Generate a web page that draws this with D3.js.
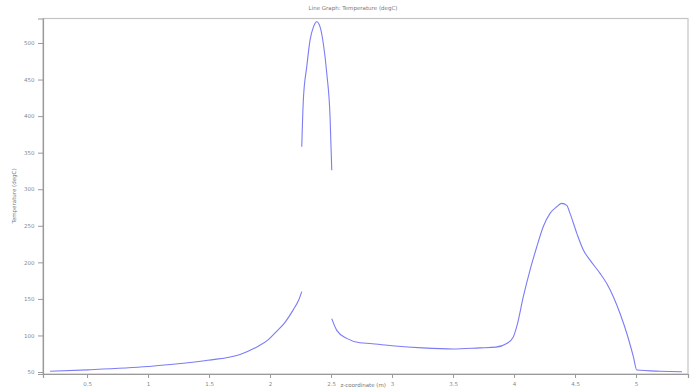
<!DOCTYPE html>
<html><head><meta charset="utf-8">
<script src="https://cdn.jsdelivr.net/npm/d3@7"></script>
<style>body{margin:0;background:#fff;} text{font-family:"DejaVu Sans",sans-serif;}</style>
</head><body><svg id="c" width="697" height="390"></svg>
<script>
const title = "Line Graph: Temperature (degC)";
const xLabel = "z-coordinate (m)";
const yLabel = "Temperature (degC)";
const xTicks = [0.5, 1, 1.5, 2, 2.5, 3, 3.5, 4, 4.5, 5];
const yTicks = [50, 100, 150, 200, 250, 300, 350, 400, 450, 500];
// null marks a break in the plotted line
const zValues = [0.197, 0.508, 1.0, 1.49, 1.754, 1.9, 1.984, 2.05, 2.123, 2.19, 2.235, 2.26,
  null,
  2.26, 2.273, 2.301, 2.328, 2.356, 2.383, 2.410, 2.437, 2.465, 2.492, 2.506,
  null,
  2.506, 2.547, 2.629, 2.738, 2.820, 3.0, 3.25, 3.5, 3.721, 3.85, 3.940, 3.994, 4.022, 4.076, 4.131,
  4.186, 4.240, 4.295, 4.350, 4.391, 4.432, 4.459, 4.514, 4.568, 4.623, 4.705, 4.760,
  4.814, 4.869, 4.924, 4.978, 5.006, 5.2, 5.377];
const tempValues = [51, 53, 57.5, 66, 74, 85, 94, 105, 118, 135, 148.5, 160,
  null,
  358, 422, 467.6, 504, 522, 529, 522, 499, 458.6, 399, 326,
  null,
  123, 107, 96, 90, 89, 86, 83, 81.5, 83, 84, 89, 98, 112, 153, 189.5,
  221, 249, 267, 276, 280.7, 278, 267, 240, 217, 203, 185, 171,
  153, 130, 103, 71, 52.7, 51, 50.4];

const svg = d3.select("#c");
const L = 43, R = 688, T = 18.5, B = 374;
const x = d3.scaleLinear().domain([0.139, 5.426]).range([L, R]);
const y = d3.scaleLinear().domain([47.3, 533.5]).range([B, T]);

const gray = "#9a9a9a";
svg.append("rect").attr("x", L).attr("y", T).attr("width", R - L).attr("height", B - T)
  .attr("fill", "none").attr("stroke", "#c4c4c4").attr("stroke-width", 1.2);

const xa = svg.append("g").attr("transform", `translate(0,${B})`)
  .call(d3.axisBottom(x).tickValues(xTicks).tickSize(4).tickFormat(d => String(d)));
const ya = svg.append("g").attr("transform", `translate(${L},0)`)
  .call(d3.axisLeft(y).tickValues(yTicks).tickSize(5).tickFormat(d => String(d)));
[xa, ya].forEach(g => {
  g.select(".domain").attr("stroke", gray).attr("stroke-width", 1.2);
  g.selectAll(".tick line").attr("stroke", gray);
  g.selectAll(".tick text").attr("fill", "#8a8a8a").attr("font-size", 5.5);
});
xa.selectAll(".tick text").attr("dy", "0.9em");
ya.selectAll(".tick text").attr("dx", "-0.1em");

const pts = zValues.map((z, i) => ({z, t: tempValues[i]}));
const line = d3.line().defined(d => d.z !== null && d.t !== null)
  .x(d => x(d.z)).y(d => y(d.t)).curve(d3.curveMonotoneX);
svg.append("path").datum(pts).attr("d", line).attr("fill", "none")
  .attr("stroke", "#7c7cf6").attr("stroke-width", 1.1);

svg.append("text").attr("x", 353).attr("y", 10).attr("text-anchor", "middle")
  .attr("font-size", 5.5).attr("fill", "#777").text(title);
svg.append("text").attr("x", 386).attr("y", 387).attr("text-anchor", "end")
  .attr("font-size", 5.5).attr("fill", "#777").text(xLabel);
svg.append("text").attr("transform", "translate(16,196) rotate(-90)").attr("text-anchor", "middle")
  .attr("font-size", 5.5).attr("fill", "#777").text(yLabel);
</script></body></html>
